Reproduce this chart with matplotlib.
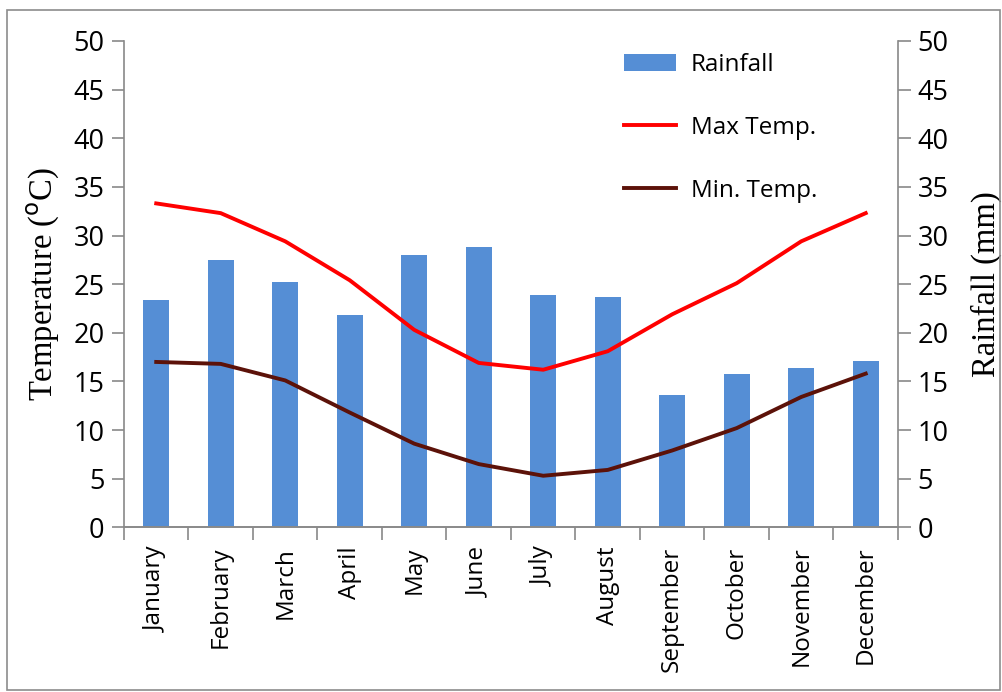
import matplotlib.pyplot as plt
from matplotlib.patches import Rectangle
import numpy as np

months = ["January", "February", "March", "April", "May", "June",
          "July", "August", "September", "October", "November", "December"]
rainfall = [23.4, 27.5, 25.2, 21.8, 28.0, 28.8, 23.9, 23.7, 13.6, 15.8, 16.4, 17.1]
max_temp = [33.3, 32.3, 29.4, 25.4, 20.3, 16.9, 16.2, 18.1, 21.9, 25.1, 29.4, 32.3]
min_temp = [17.0, 16.8, 15.1, 11.8, 8.6, 6.5, 5.3, 5.9, 7.9, 10.2, 13.4, 15.8]

plt.rcParams["font.family"] = ["Open Sans", "DejaVu Sans"]
spine_col = "#898989"

fig = plt.figure(figsize=(10.03, 6.92), dpi=100)
fig.add_artist(Rectangle((0.007, 0.003), 0.99, 0.983, transform=fig.transFigure,
                         fill=False, edgecolor="#8c8c8c", linewidth=1.2))

ax = fig.add_axes([0.1236, 0.238, 0.7717, 0.7028])
ax2 = ax.twinx()

x = np.arange(len(months))
ax2.bar(x, rainfall, width=0.4, color="#558ed5", label="Rainfall", zorder=1)
ax.plot(x, max_temp, color="#ff0000", linewidth=2.8, label="Max Temp.", zorder=3)
ax.plot(x, min_temp, color="#5c1209", linewidth=2.8, label="Min. Temp.", zorder=3)

ax.set_zorder(ax2.get_zorder() + 1)
ax.patch.set_visible(False)

for a in (ax, ax2):
    a.set_xlim(-0.5, 11.5)
    a.set_ylim(0, 50)
    a.set_yticks(range(0, 51, 5))
    a.spines["top"].set_visible(False)
    for s in a.spines.values():
        s.set_color(spine_col)
        s.set_linewidth(1.2)
    a.tick_params(axis="y", direction="out", length=9, width=1.2, color=spine_col,
                  labelsize=19.5, pad=5)

ax.spines["right"].set_visible(False)
ax2.spines["left"].set_visible(False)

ax.set_xticks(x)
ax.set_xticklabels(months, rotation=90, fontsize=17.5)
ax.set_xticks(np.arange(-0.5, 12, 1), minor=True)
ax.tick_params(axis="x", which="major", length=0, pad=14)
ax.tick_params(axis="x", which="minor", direction="out", length=9, width=1.2,
               color=spine_col)
ax2.tick_params(axis="x", length=0)

ax.set_ylabel("Temperature ($^{\\mathrm{o}}$C)", family="Liberation Serif",
              fontsize=23.5, labelpad=8)
ax2.set_ylabel("Rainfall (mm)", family="Liberation Serif", fontsize=23.5, labelpad=16)

h1, l1 = ax2.get_legend_handles_labels()
h2, l2 = ax.get_legend_handles_labels()
ax.legend(h1 + h2, l1 + l2, loc="upper left", bbox_to_anchor=(0.618, 1.02),
          frameon=False, fontsize=17.5, handlelength=2.15, handleheight=0.7,
          labelspacing=1.6, handletextpad=0.6)

fig.savefig("out.png", dpi=100)
